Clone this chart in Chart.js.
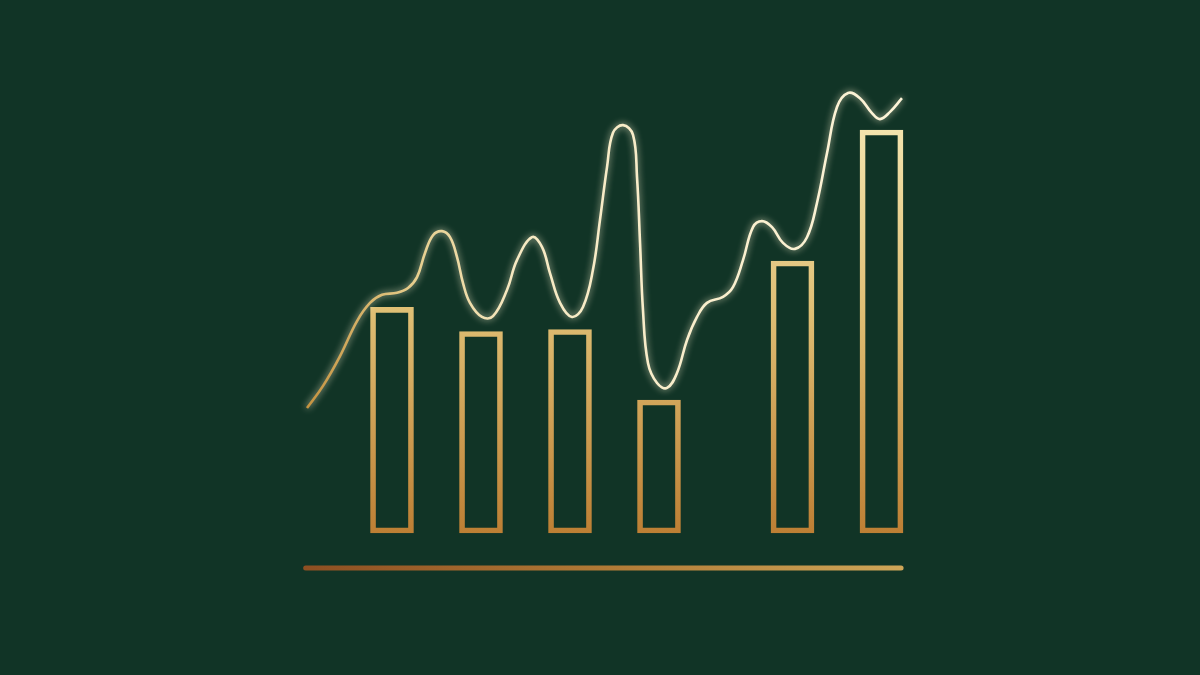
<!DOCTYPE html>
<html>
<head>
<meta charset="utf-8">
<script src="https://cdn.jsdelivr.net/npm/chart.js@4.4.1/dist/chart.umd.min.js"></script>
<style>
  html, body { margin: 0; padding: 0; background: #113426; }
  #wrap { width: 1200px; height: 675px; position: relative; }
</style>
</head>
<body>
<div id="wrap"><canvas id="goldChart"></canvas></div>
<script>
// bar positions (x) and heights (y)
const barX = [1, 2, 3, 4, 5.5, 6.5];
const barValues = [56, 50, 50.5, 33, 67.5, 100];

// sparkling trend line
const lineX = [0.045, 0.225, 0.416, 0.607, 0.753, 0.888, 1.056, 1.180, 1.281,
  1.371, 1.461, 1.562, 1.652, 1.730, 1.798, 1.876, 2.011, 2.135, 2.292,
  2.404, 2.573, 2.685, 2.775, 2.888, 3.022, 3.146, 3.258, 3.337, 3.416,
  3.483, 3.596, 3.708, 3.753, 3.787, 3.820, 3.876, 3.978, 4.090, 4.202,
  4.315, 4.427, 4.539, 4.719, 4.831, 4.944, 5.056, 5.157, 5.270, 5.393,
  5.528, 5.663, 5.775, 5.888, 6.000, 6.124, 6.258, 6.393, 6.483, 6.596, 6.730];
const lineValues = [31.0, 36.5, 43.9, 52.6, 57.1, 59.1, 59.6, 60.8, 63.5,
  69.5, 73.9, 74.9, 73.4, 68.5, 62.0, 57.1, 53.6, 53.8, 60.3,
  67.7, 73.4, 71.0, 64.5, 57.1, 53.6, 56.1, 65.3, 77.7, 90.8,
  99.3, 101.2, 98.8, 88.3, 72.0, 55.3, 42.2, 37.2, 36.0, 39.7,
  47.9, 53.6, 57.1, 58.6, 61.0, 67.7, 75.9, 77.4, 75.9, 72.0,
  70.5, 73.4, 81.9, 94.3, 105.7, 109.2, 107.9, 104.2, 102.7, 104.5, 107.9];

// ground line under the bars
const baseX = [0.03, 6.72];
const baseValues = [-8.7, -8.7];

let goldChart;

window.onload = function() {
    initializeChart();
};

function pairs(xs, ys) {
    return xs.map((x, i) => ({ x: x, y: ys[i] }));
}

function barGold(context) {
    const area = context.chart.chartArea;
    if (!area) return '#d9b86a';
    const g = context.chart.ctx.createLinearGradient(0, 130, 0, 533);
    g.addColorStop(0, '#f3e3ad');
    g.addColorStop(0.45, '#dfbf74');
    g.addColorStop(1, '#bd7f34');
    return g;
}

function lineGold(context) {
    const area = context.chart.chartArea;
    if (!area) return '#f5e6bd';
    const g = context.chart.ctx.createLinearGradient(305, 0, 905, 0);
    g.addColorStop(0, '#c4923f');
    g.addColorStop(0.18, '#e6cd8c');
    g.addColorStop(0.35, '#f6e9c2');
    g.addColorStop(1, '#fdf4d8');
    return g;
}

function baseGold(context) {
    const area = context.chart.chartArea;
    if (!area) return '#b07a38';
    const g = context.chart.ctx.createLinearGradient(305, 0, 905, 0);
    g.addColorStop(0, '#8e4f22');
    g.addColorStop(0.5, '#b17a36');
    g.addColorStop(1, '#cfa658');
    return g;
}

// soft glow behind the trend line
const glowPlugin = {
    id: 'glow',
    beforeDatasetDraw(chart, args) {
        if (args.index !== 0) return;
        const ctx = chart.ctx;
        ctx.save();
        ctx.shadowColor = 'rgba(255, 244, 210, 0.8)';
        ctx.shadowBlur = 7;
    },
    afterDatasetDraw(chart, args) {
        if (args.index !== 0) return;
        chart.ctx.restore();
    }
};

function initializeChart() {
    const ctx = document.getElementById('goldChart').getContext('2d');
    goldChart = new Chart(ctx, {
        type: 'bar',
        data: {
            datasets: [{
                type: 'line',
                label: 'Trend',
                data: pairs(lineX, lineValues),
                borderColor: lineGold,
                borderWidth: 2.6,
                pointRadius: 0,
                tension: 0.4, // smooth curve through the read points
                fill: false,
                order: 0
            }, {
                type: 'line',
                label: 'Base',
                data: pairs(baseX, baseValues),
                borderColor: baseGold,
                borderWidth: 5,
                borderCapStyle: 'round',
                pointRadius: 0,
                order: 1
            }, {
                label: 'Bars',
                data: pairs(barX, barValues),
                backgroundColor: 'rgba(0,0,0,0)',
                borderColor: barGold,
                borderWidth: 5,
                borderSkipped: false,
                barThickness: 43,
                order: 2
            }]
        },
        options: {
            responsive: true,
            maintainAspectRatio: false,
            animation: false,
            layout: { padding: 0 },
            plugins: {
                legend: { display: false },
                tooltip: { enabled: false }
            },
            scales: {
                x: { type: 'linear', display: false, offset: false, min: -3.4045, max: 10.0787 },
                y: { type: 'linear', display: false, min: -35.24, max: 132.26 }
            }
        },
        plugins: [glowPlugin]
    });
}
</script>
</body>
</html>
